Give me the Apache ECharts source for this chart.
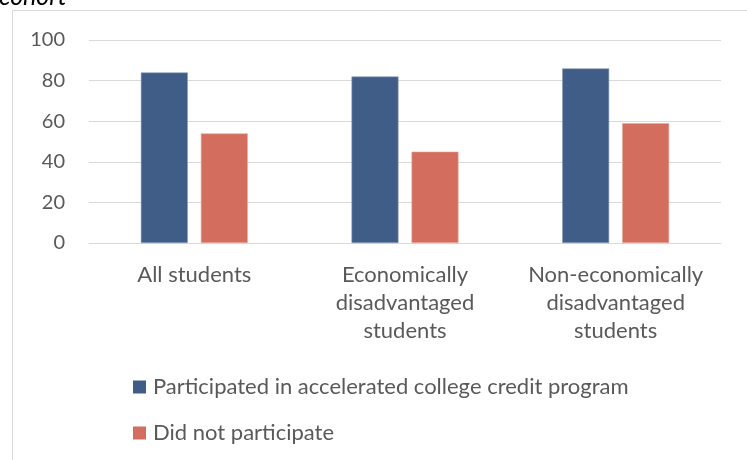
<!DOCTYPE html>
<html><head><meta charset="utf-8">
<script src="https://cdn.jsdelivr.net/npm/echarts@6/dist/echarts.min.js"></script>
<style>html,body{margin:0;padding:0;background:#fff}#c{width:747px;height:460px}</style>
</head><body><div id="c"></div>
<script>
const categories = ["All students", "Economically\ndisadvantaged\nstudents", "Non-economically\ndisadvantaged\nstudents"];
const participated = [84, 82, 86];
const notParticipated = [54, 45, 59];
const seriesNames = ["Participated in accelerated college credit program", "Did not participate"];
const yTicks = {min: 0, max: 100, interval: 20};

const font = "Lato, 'Open Sans', sans-serif";
const chart = echarts.init(document.getElementById('c'), null, {renderer: 'canvas'});
chart.setOption({
  animation: false,
  graphic: [
    {type: 'rect', shape: {x: 12.5, y: 10.5, width: 800, height: 500}, style: {fill: 'none', stroke: '#d9d9d9', lineWidth: 1}, silent: true},
    {type: 'text', x: -1, y: -3.5, style: {text: 'cohort', font: 'italic 25px ' + font, fill: '#000', verticalAlign: 'middle'}}
  ],
  grid: {left: 89, right: 26, top: 40, height: 203, containLabel: false},
  legend: {
    orient: 'vertical', left: 128, top: 371, padding: 5, itemGap: 24, itemWidth: 13, itemHeight: 13,
    icon: 'rect',
    itemStyle: {borderWidth: 0},
    textStyle: {fontFamily: font, fontSize: 22, lineHeight: 22, color: '#595959', padding: [0, 0, 0, 2]},
    data: seriesNames
  },
  xAxis: {
    type: 'category', data: categories,
    axisLine: {show: true, lineStyle: {color: '#d9d9d9', width: 1}},
    axisTick: {show: false},
    axisLabel: {interval: 0, margin: 18, fontFamily: font, fontSize: 22, color: '#595959', lineHeight: 28}
  },
  yAxis: {
    type: 'value', min: yTicks.min, max: yTicks.max, interval: yTicks.interval,
    axisLine: {show: false}, axisTick: {show: false},
    splitLine: {lineStyle: {color: '#d9d9d9', width: 1}},
    axisLabel: {margin: 24, fontFamily: font, fontSize: 20, color: '#595959'}
  },
  series: [
    {name: seriesNames[0], type: 'bar', data: participated, barWidth: '22.3%', barGap: '27.7%',
     itemStyle: {color: '#3F5D87', borderColor: '#8A9CB8', borderWidth: 0.6}},
    {name: seriesNames[1], type: 'bar', data: notParticipated, barWidth: '22.3%',
     itemStyle: {color: '#D36E5E', borderColor: '#E8A79C', borderWidth: 0.6}}
  ]
});
</script></body></html>
